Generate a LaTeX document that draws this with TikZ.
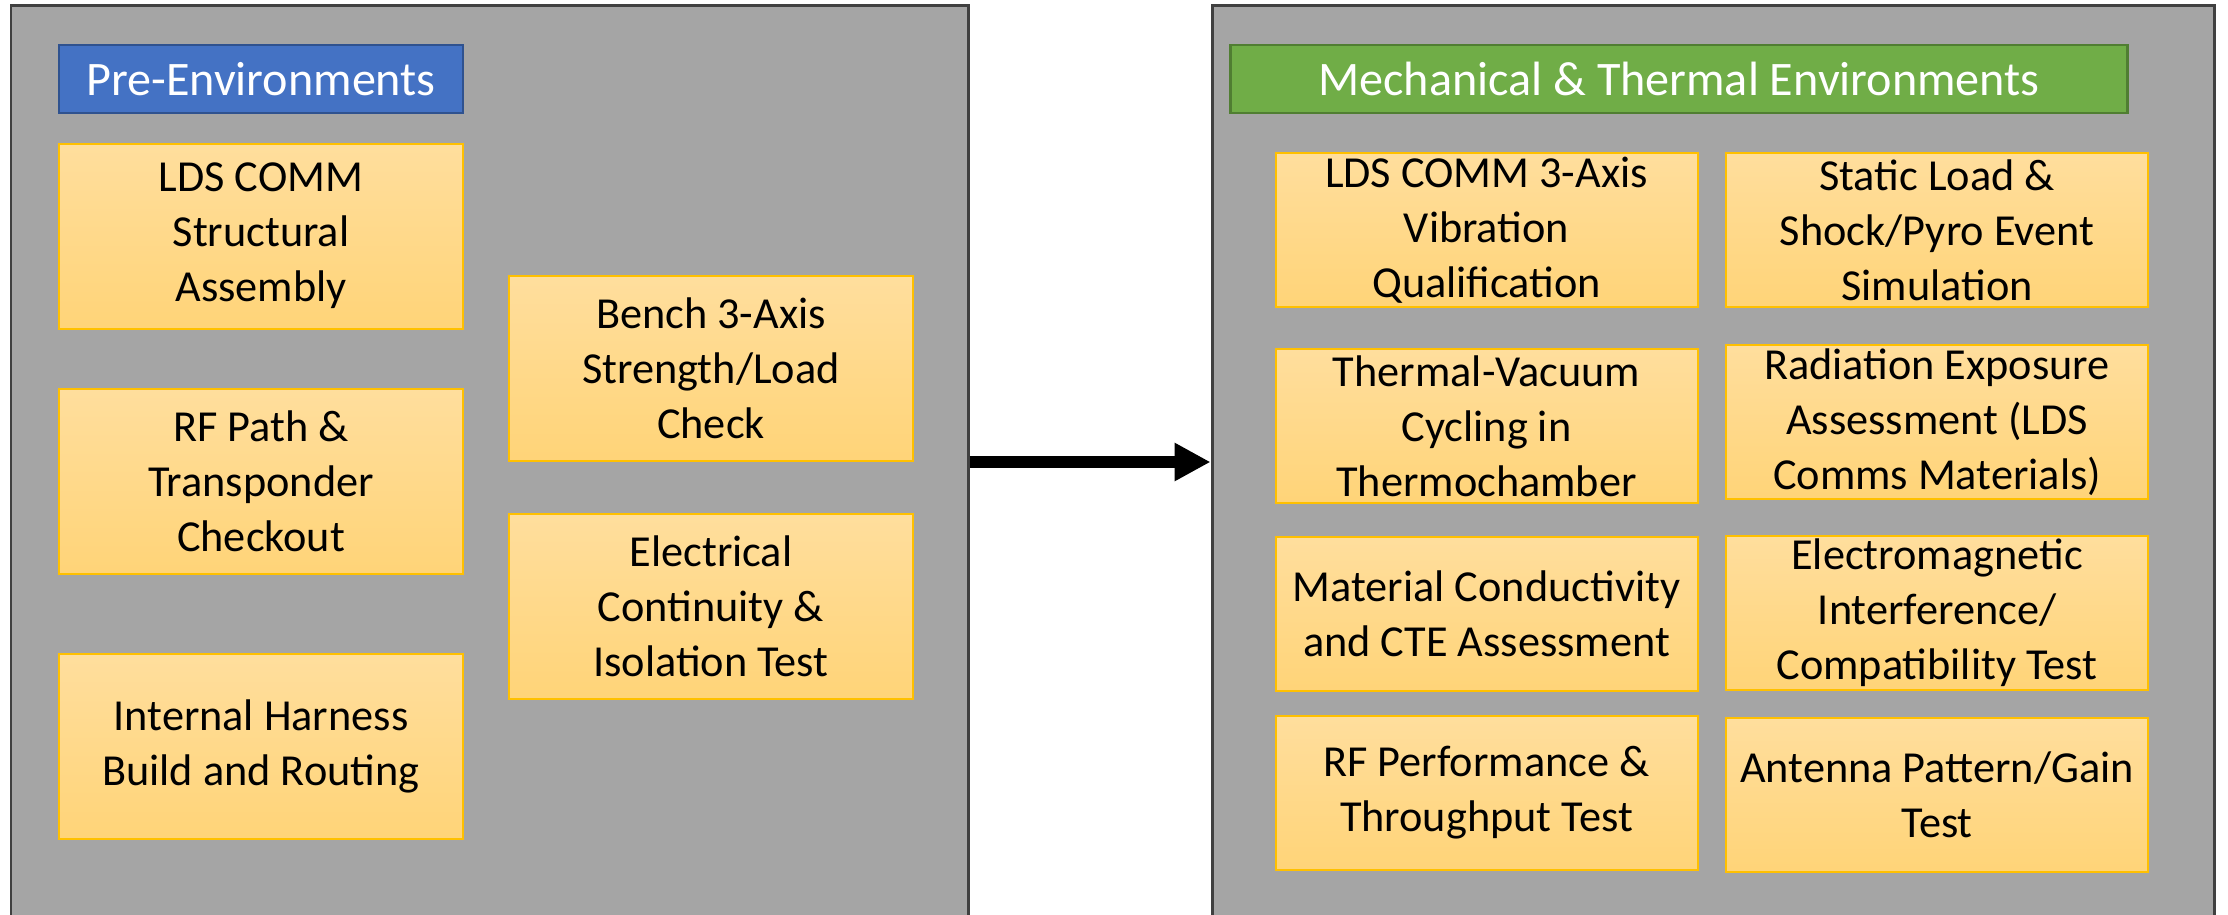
\documentclass[tikz,border=0pt]{standalone}
\usepackage{fontspec}
\setmainfont{Carlito}
\usepackage{tikz}
\usetikzlibrary{arrows.meta,positioning,calc}

\definecolor{panelgray}{HTML}{A5A5A5}
\definecolor{paneledge}{HTML}{404040}
\definecolor{goldedge}{HTML}{FFC000}
\definecolor{goldtop}{HTML}{FFDE9D}
\definecolor{goldbot}{HTML}{FFD478}
\definecolor{titleblue}{HTML}{4472C4}
\definecolor{blueedge}{HTML}{2F528F}
\definecolor{titlegreen}{HTML}{70AD47}
\definecolor{greenedge}{HTML}{507E32}

\begin{document}
\begin{tikzpicture}[
  font=\fontsize{12.6pt}{15.6pt}\selectfont,
  panel/.style={draw=paneledge,line width=0.03cm,fill=panelgray,inner sep=0pt},
  title/.style={draw=#1edge,line width=0.025cm,fill=title#1,text=white,minimum height=0.68cm,inner sep=0pt,font=\fontsize{13.7pt}{16pt}\selectfont},
  task/.style={draw=goldedge,line width=0.02cm,top color=goldtop,bottom color=goldbot,align=center,inner sep=0pt},
  lefttask/.style={task,minimum width=4.04cm,minimum height=1.85cm},
  righttask/.style={task,minimum width=4.22cm,minimum height=1.54cm}]
\useasboundingbox (0,0) rectangle (22.28,9.14);
% Panels
\node[panel,minimum width=9.57cm,minimum height=9.2cm] (pre) at (4.895,4.49) {};
\node[panel,minimum width=10.02cm,minimum height=9.2cm] (mech) at (17.13,4.49) {};
% Titles
\node[title=blue,minimum width=4.04cm] (pretitle) at (2.61,8.35) {Pre-Environments};
\node[title=green,minimum width=8.97cm] (mechtitle) at (16.79,8.35) {Mechanical \& Thermal Environments};
% Pre-environment tasks
\node[lefttask] (structural) at (2.61,6.78) {LDS COMM\\Structural\\Assembly};
\node[lefttask] (rfpath) at (2.61,4.33) {RF Path \&\\Transponder\\Checkout};
\node[lefttask] (harness) at (2.61,1.675) {Internal Harness\\Build and Routing};
\node[lefttask] (bench) at (7.11,5.455) {Bench 3-Axis\\Strength/Load\\Check};
\node[lefttask] (continuity) at (7.11,3.08) {Electrical\\Continuity \&\\Isolation Test};
% Mechanical and thermal tasks
\node[righttask] (vibration) at (14.865,6.84) {LDS COMM 3-Axis\\Vibration\\Qualification};
\node[righttask] (shock) at (19.37,6.84) {Static Load \&\\Shock/Pyro Event\\Simulation};
\node[righttask] (tvac) at (14.865,4.88) {Thermal-Vacuum\\Cycling in\\Thermochamber};
\node[righttask] (radiation) at (19.37,4.92) {Radiation Exposure\\Assessment (LDS\\Comms Materials)};
\node[righttask] (cte) at (14.865,3.0) {Material Conductivity\\and CTE Assessment};
\node[righttask] (emi) at (19.37,3.015) {Electromagnetic\\Interference/\\Compatibility Test};
\node[righttask] (rfperf) at (14.865,1.215) {RF Performance \&\\Throughput Test};
\node[righttask] (antenna) at (19.37,1.195) {Antenna Pattern/Gain\\Test};
% Flow
\draw[line width=0.12cm,-{Triangle[length=0.36cm,width=0.36cm]}] (pre.east |- bench.south) -- (mech.west |- bench.south);
\end{tikzpicture}
\end{document}
